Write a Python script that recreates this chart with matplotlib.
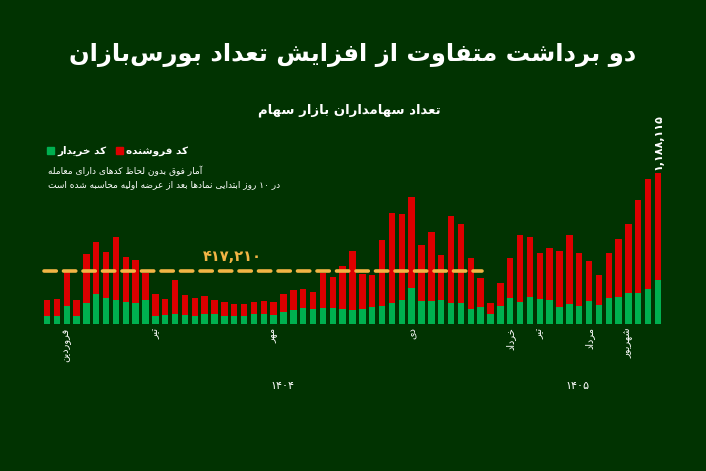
import matplotlib
matplotlib.use("Agg")
import matplotlib.pyplot as plt
from matplotlib.patches import Rectangle

# ---------- data (thousands of codes) ----------
totals = [185, 193, 421, 185, 547, 641, 563, 681, 523, 500, 397, 232, 193, 342, 224, 201,
          216, 185, 169, 153, 153, 169, 177, 169, 232, 264, 272, 248, 397, 366, 453, 571,
          390, 382, 657, 870, 862, 996, 618, 720, 539, 846, 783, 515, 358, 161, 319, 515,
          697, 681, 555, 594, 571, 697, 555, 492, 382, 555, 665, 783, 972, 1137, 1188.115]
buyers = [59, 59, 138, 59, 161, 232, 201, 185, 169, 161, 185, 59, 67, 75, 67, 59,
          75, 75, 59, 59, 59, 75, 75, 67, 90, 106, 122, 114, 122, 122, 114, 106,
          114, 130, 138, 161, 185, 279, 177, 177, 185, 161, 161, 114, 130, 75, 138, 201,
          169, 209, 193, 185, 130, 153, 138, 177, 146, 201, 209, 240, 240, 272, 342]
sellers = [t - b for t, b in zip(totals, buyers)]
month_idx = [2, 11, 23, 37, 47, 50, 55, 59]
month_labels = ["فروردین", "تیر", "مهر", "دی", "خرداد", "تیر", "مرداد", "شهریور"]
years = ["۱۴۰۴", "۱۴۰۵"]
year_x = [23.9, 53.8]
avg_value = 417.210
avg_label = "۴۱۷,۲۱۰"
last_label = "۱,۱۸۸,۱۱۵"

# ---------- minimal Persian shaper ----------
F = {
 'ا': (0xFE8D, 0xFE8E, None, None), 'آ': (0xFE81, 0xFE82, None, None),
 'ب': (0xFE8F, 0xFE90, 0xFE91, 0xFE92), 'ت': (0xFE95, 0xFE96, 0xFE97, 0xFE98),
 'ث': (0xFE99, 0xFE9A, 0xFE9B, 0xFE9C), 'ج': (0xFE9D, 0xFE9E, 0xFE9F, 0xFEA0),
 'ح': (0xFEA1, 0xFEA2, 0xFEA3, 0xFEA4), 'خ': (0xFEA5, 0xFEA6, 0xFEA7, 0xFEA8),
 'د': (0xFEA9, 0xFEAA, None, None), 'ذ': (0xFEAB, 0xFEAC, None, None),
 'ر': (0xFEAD, 0xFEAE, None, None), 'ز': (0xFEAF, 0xFEB0, None, None),
 'ژ': (0xFB8A, 0xFB8B, None, None),
 'س': (0xFEB1, 0xFEB2, 0xFEB3, 0xFEB4), 'ش': (0xFEB5, 0xFEB6, 0xFEB7, 0xFEB8),
 'ص': (0xFEB9, 0xFEBA, 0xFEBB, 0xFEBC), 'ض': (0xFEBD, 0xFEBE, 0xFEBF, 0xFEC0),
 'ط': (0xFEC1, 0xFEC2, 0xFEC3, 0xFEC4), 'ظ': (0xFEC5, 0xFEC6, 0xFEC7, 0xFEC8),
 'ع': (0xFEC9, 0xFECA, 0xFECB, 0xFECC), 'غ': (0xFECD, 0xFECE, 0xFECF, 0xFED0),
 'ف': (0xFED1, 0xFED2, 0xFED3, 0xFED4), 'ق': (0xFED5, 0xFED6, 0xFED7, 0xFED8),
 'ل': (0xFEDD, 0xFEDE, 0xFEDF, 0xFEE0), 'م': (0xFEE1, 0xFEE2, 0xFEE3, 0xFEE4),
 'ن': (0xFEE5, 0xFEE6, 0xFEE7, 0xFEE8), 'ه': (0xFEE9, 0xFEEA, 0xFEEB, 0xFEEC),
 'و': (0xFEED, 0xFEEE, None, None), 'ی': (0xFBFC, 0xFBFD, 0xFBFE, 0xFBFF),
 'ک': (0xFB8E, 0xFB8F, 0xFB90, 0xFB91), 'گ': (0xFB92, 0xFB93, 0xFB94, 0xFB95),
 'پ': (0xFB56, 0xFB57, 0xFB58, 0xFB59), 'چ': (0xFB7A, 0xFB7B, 0xFB7C, 0xFB7D),
}

def fa(s):
    out = []
    n = len(s)
    for i, c in enumerate(s):
        if c == '\u200c':
            continue
        if c not in F:
            out.append(c); continue
        prev = s[i-1] if i > 0 else None
        nxt = s[i+1] if i + 1 < n else None
        jp = prev in F and F[prev][2] is not None
        jn = nxt in F and F[c][2] is not None
        iso, fin, ini, med = F[c]
        if jp and jn: out.append(chr(med))
        elif jp: out.append(chr(fin))
        elif jn: out.append(chr(ini))
        else: out.append(chr(iso))
    runs, cur, curd = [], "", None
    for ch in out:
        d = ch.isdigit() or (ch == ',' and curd)
        if curd is None or d == curd:
            cur += ch
        else:
            runs.append((cur, curd)); cur = ch
        curd = d
    if cur: runs.append((cur, curd))
    return "".join(r if d else r[::-1] for r, d in reversed(runs))

plt.rcParams['font.family'] = ['DejaVu Sans']
BG = '#013301'
RED = '#dd0000'
GRN = '#00b050'
GOLD = '#f2b545'

fig = plt.figure(figsize=(7.06, 4.71), dpi=100, facecolor=BG)
ax = fig.add_axes([0.0596, 0.313, 0.8794, 0.337])
ax.set_facecolor(BG)
x = list(range(len(totals)))
ax.bar(x, buyers, width=0.65, color=GRN)
ax.bar(x, sellers, bottom=buyers, width=0.65, color=RED)
ax.set_xlim(-0.5, len(totals) - 0.5)
ax.set_ylim(0, 1250)
for s in ax.spines.values():
    s.set_visible(False)
ax.set_xticks([]); ax.set_yticks([])

ax.plot([-0.3, 44.1], [avg_value, avg_value], color=GOLD, lw=2.6,
        dashes=(3.4, 2.0), dash_capstyle='round', solid_capstyle='round')
ax.text(18.8, avg_value + 50, avg_label, color=GOLD, fontsize=10.5, fontweight='bold',
        ha='center', va='bottom')
ax.text(len(totals) - 1, totals[-1] + 20, last_label, color='white', fontsize=8,
        fontweight='bold', rotation=90, ha='center', va='bottom')

for i, lab in zip(month_idx, month_labels):
    ax.text(i, -30, fa(lab), color='white', fontsize=7, rotation=90, ha='center', va='top')
for xx, lab in zip(year_x, years):
    ax.text(xx, -490, lab, color='white', fontsize=8, ha='center', va='center')

fig.text(0.5, 0.883, fa("دو برداشت متفاوت از افزایش تعداد بورس‌بازان"), color='white',
         fontsize=17.5, fontweight='bold', ha='center', va='center')
fig.text(0.495, 0.766, fa("تعداد سهامداران بازار سهام"), color='white',
         fontsize=9.5, fontweight='bold', ha='center', va='center')

for (px, col, lab) in [(47, GRN, "کد خریدار"), (116, RED, "کد فروشنده")]:
    fig.patches.append(Rectangle((px / 706, 1 - 154 / 471), 6.5 / 706, 6.5 / 471,
                                 transform=fig.transFigure, color=col))
    fig.text((px + 10) / 706, 1 - 150.5 / 471, fa(lab), color='white', fontsize=7.5,
             fontweight='bold', ha='left', va='center')
fig.text(48 / 706, 1 - 171 / 471, fa("آمار فوق بدون لحاظ کدهای دارای معامله"),
         color='white', fontsize=6.5, ha='left', va='center')
fig.text(48 / 706, 1 - 185 / 471, fa("در ۱۰ روز ابتدایی نمادها بعد از عرضه اولیه محاسبه شده است"),
         color='white', fontsize=6.5, ha='left', va='center')

fig.savefig("out.png", dpi=100, facecolor=BG)
